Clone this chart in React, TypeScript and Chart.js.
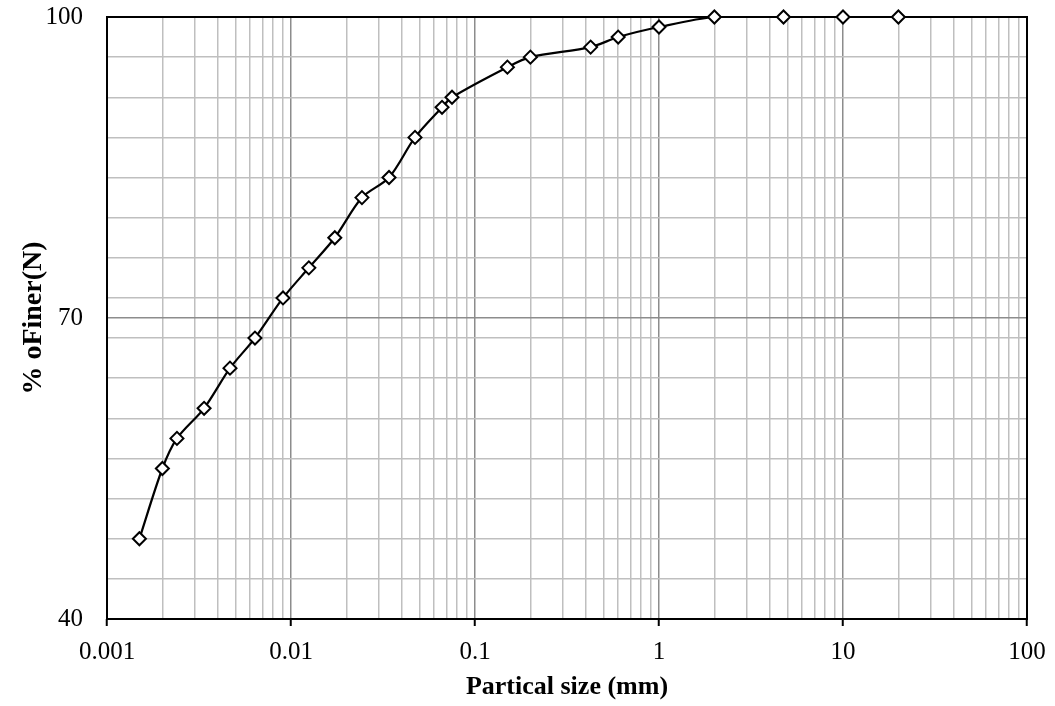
import React, { useEffect, useRef } from "react";
import { Chart, registerables } from "chart.js";

Chart.register(...registerables);

const particleSizes = [
  0.0015, 0.002, 0.0024, 0.00337, 0.00466, 0.00637, 0.00905, 0.0125, 0.0173,
  0.0243, 0.0341, 0.0472, 0.0662, 0.075, 0.15, 0.2, 0.425, 0.6, 1, 2, 4.75,
  10, 20,
];
const percentFiner = [
  48, 55, 58, 61, 65, 68, 72, 75, 78, 82, 84, 88, 91, 92, 95, 96, 97, 98, 99,
  100, 100, 100, 100,
];
const xTickLabels = ["0.001", "0.01", "0.1", "1", "10", "100"];
const yMajorTicks = [40, 70, 100];
const yMinorStep = 4;

const FONT = "'Liberation Serif', 'Times New Roman', serif";

function isPow10(v: number) {
  const l = Math.log10(v);
  return Math.abs(l - Math.round(l)) < 1e-9;
}

export default function App() {
  const ref = useRef<HTMLCanvasElement | null>(null);

  useEffect(() => {
    document.body.style.margin = "0";
    if (!ref.current) return;

    const borderPlugin = {
      id: "plotBorder",
      beforeDatasetsDraw(chart: any) {
        const { ctx, chartArea } = chart;
        ctx.save();
        ctx.strokeStyle = "#000";
        ctx.lineWidth = 2;
        ctx.strokeRect(
          chartArea.left,
          chartArea.top,
          chartArea.right - chartArea.left,
          chartArea.bottom - chartArea.top
        );
        ctx.restore();
      },
    };

    const chart = new Chart(ref.current, {
      type: "line",
      data: {
        datasets: [
          {
            data: particleSizes.map((x, i) => ({ x, y: percentFiner[i] })),
            borderColor: "#000",
            borderWidth: 2.2,
            tension: 0.3,
            pointStyle: "rectRot",
            pointRadius: 6.5,
            pointBackgroundColor: "#fff",
            pointBorderColor: "#000",
            pointBorderWidth: 2,
            clip: false,
          },
        ],
      },
      options: {
        animation: false,
        responsive: true,
        maintainAspectRatio: false,
        layout: { padding: { left: 0, top: 17, right: 28, bottom: 0 } },
        plugins: { legend: { display: false }, tooltip: { enabled: false } },
        scales: {
          x: {
            type: "logarithmic",
            min: 0.001,
            max: 100,
            afterBuildTicks(scale: any) {
              const t: { value: number }[] = [];
              for (let e = -3; e <= 1; e++) {
                for (let m = 1; m <= 9; m++) {
                  t.push({ value: parseFloat((m * Math.pow(10, e)).toPrecision(6)) });
                }
              }
              t.push({ value: 100 });
              scale.ticks = t;
            },
            afterFit(scale: any) {
              scale.height = 87;
              scale.paddingLeft = 0;
              scale.paddingRight = 0;
            },
            border: { display: false },
            grid: {
              color: (ctx: any) =>
                ctx.tick && isPow10(ctx.tick.value) ? "#8c8c8c" : "#bfbfbf",
              lineWidth: 1.5,
              tickColor: (ctx: any) =>
                ctx.tick && isPow10(ctx.tick.value) ? "#000" : "rgba(0,0,0,0)",
              tickLength: 7,
              tickWidth: 2,
            },
            ticks: {
              autoSkip: false,
              maxRotation: 0,
              minRotation: 0,
              padding: 11,
              color: "#000",
              font: { family: FONT, size: 25 },
              callback: (v: any) => {
                const n = Number(v);
                if (!isPow10(n)) return "";
                return xTickLabels[Math.round(Math.log10(n)) + 3];
              },
            },
            title: {
              display: true,
              text: "Partical size (mm)",
              color: "#000",
              font: { family: FONT, size: 26, weight: "bold" },
              padding: { top: 0, bottom: 3 },
            },
          },
          y: {
            type: "linear",
            min: 40,
            max: 100,
            afterBuildTicks(scale: any) {
              const vals = new Set<number>(yMajorTicks);
              for (let v = yMajorTicks[0]; v <= 100; v += yMinorStep) vals.add(v);
              scale.ticks = Array.from(vals)
                .sort((a, b) => a - b)
                .map((value) => ({ value }));
            },
            afterFit(scale: any) {
              scale.width = 107;
              scale.paddingTop = 0;
              scale.paddingBottom = 0;
            },
            border: { display: false },
            grid: {
              color: (ctx: any) =>
                ctx.tick && yMajorTicks.includes(ctx.tick.value) ? "#8c8c8c" : "#bfbfbf",
              lineWidth: 1.5,
              drawTicks: false,
            },
            ticks: {
              autoSkip: false,
              padding: 24,
              color: "#000",
              font: { family: FONT, size: 25 },
              callback: (v: any) =>
                yMajorTicks.includes(Number(v)) ? String(v) : "",
            },
            title: {
              display: true,
              text: "% oFiner(N)",
              color: "#000",
              font: { family: FONT, size: 28, weight: "bold" },
              padding: { top: 17, bottom: 0 },
            },
          },
        },
      },
      plugins: [borderPlugin],
    } as any);

    return () => chart.destroy();
  }, []);

  return (
    <div style={{ position: "absolute", left: 0, top: 0, width: 1055, height: 706 }}>
      <canvas ref={ref} />
    </div>
  );
}
